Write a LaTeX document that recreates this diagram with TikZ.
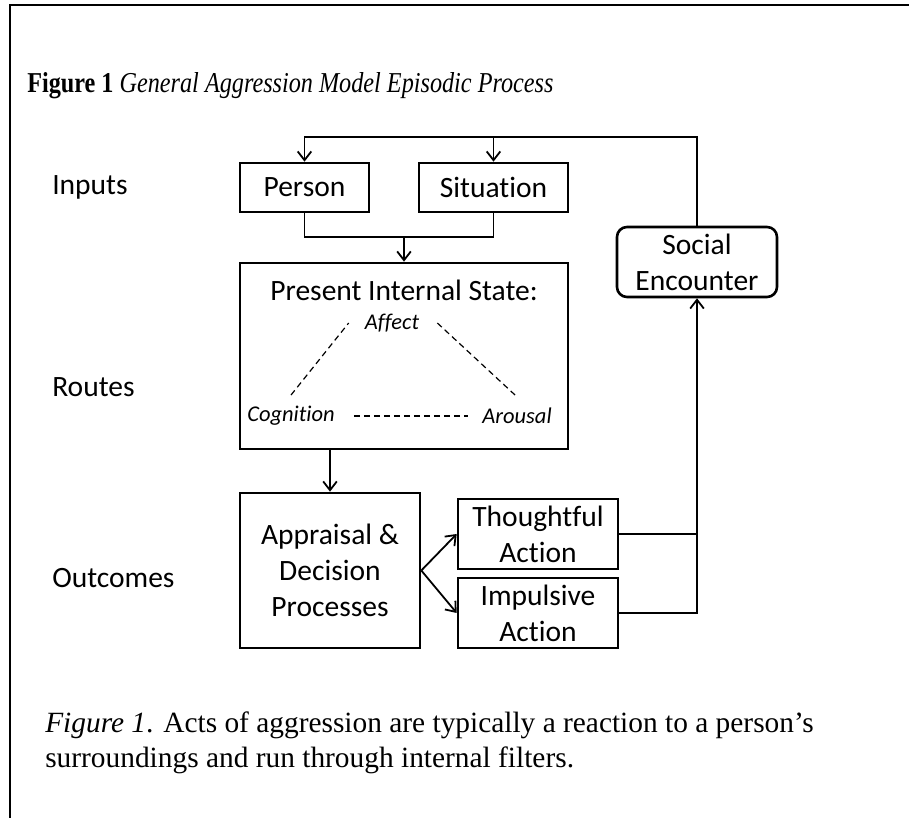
\documentclass[tikz,border=0pt]{standalone}
\usepackage{fontspec}
\setmainfont{Liberation Serif}
\newfontfamily\boxfont[Ligatures=NoCommon]{Carlito}
\usetikzlibrary{arrows.meta}

\begin{document}
\begin{tikzpicture}[
    box/.style={draw, line width=0.065000cm, inner sep=0pt, align=center,
      font=\boxfont\fontsize{21}{25.5}\selectfont},
    roundbox/.style={box, rounded corners=0.250000cm},
    plainlabel/.style={inner sep=0pt, font=\boxfont\fontsize{21}{25.5}\selectfont},
    statelabel/.style={inner sep=0.100000cm, font=\boxfont\itshape\fontsize{16}{19}\selectfont},
    link/.style={line width=0.045000cm},
    feed/.style={link, -{Straight Barb[length=0.220000cm,width=0.340000cm]}},
    linkdash/.style={line width=0.030000cm, dash pattern=on 0.150000cm off 0.100000cm},
  ]
\useasboundingbox (0.000000,0.000000) rectangle (22.725000,20.450000);

% Drawing frame
\draw [line width=0.050000cm] (22.725000,20.325000) -- (0.250000,20.325000) -- (0.250000,0.000000);%

% Marking title
\node [anchor=west, inner sep=0pt, font=\fontsize{20.5}{24}\selectfont] (title) at (0.675000,18.300000)
  {\scalebox{0.84}[1]{\textbf{Figure 1} \textit{General Aggression Model Episodic Process}}};%

% Marking row labels
\node [plainlabel, anchor=west] (inputs) at (1.300000,15.775000) {Inputs};%
\node [plainlabel, anchor=west] (routes) at (1.300000,10.775000) {Routes};%
\node [plainlabel, anchor=west] (outcomes) at (1.300000,6.000000) {Outcomes};%

% Drawing boxes Person and Situation
\node [box, minimum width=3.225cm, minimum height=1.225cm] (person) at (7.612500,15.762500) {Person};%
\node [box, minimum width=3.725cm, minimum height=1.225cm] (situation) at (12.337500,15.762500) {Situation};%

% Drawing box Present Internal State
\node [box, minimum width=8.200cm, minimum height=4.650cm] (state) at (10.100000,11.550000) {};%
\node [plainlabel] (statetitle) at (10.100000,13.200000) {Present Internal State:};%
\node [statelabel] (affect) at (9.800000,12.375000) {Affect};%
\node [statelabel] (cognition) at (7.275000,10.050000) {Cognition};%
\node [statelabel] (arousal) at (12.925000,10.050000) {Arousal};%

% Drawing box Social Encounter
\node [roundbox, minimum width=4.000cm, minimum height=1.750cm] (social) at (17.425000,13.900000) {Social\\Encounter};%

% Drawing box Appraisal
\node [box, minimum width=4.500cm, minimum height=3.875cm] (appraisal) at (8.250000,6.187500) {Appraisal \&\\Decision\\Processes};%

% Drawing boxes Thoughtful and Impulsive
\node [box, minimum width=4.000cm, minimum height=1.750cm] (thought) at (13.450000,7.100000) {Thoughtful\\Action};%
\node [box, minimum width=4.000cm, minimum height=1.750cm] (impulse) at (13.450000,5.125000) {Impulsive\\Action};%

% Marking corners of connectors
\coordinate (merge) at (10.100000,14.525000);
\coordinate (loop) at (17.425000,17.025000);

% Drawing segment Person Situation -> State
\draw [link] (person.south) |- (situation.south |- merge) -- (situation.south);%
\draw [feed] (merge) -- (state.north);%

% Drawing segment Social -> Person, Situation
\draw [feed] (social.north) |- (person.north |- loop) -- (person.north);%
\draw [feed] (situation.north |- loop) -- (situation.north);%

% Drawing segment State -> Appraisal
\draw [feed] (state.south -| appraisal.north) -- (appraisal.north);%

% Drawing segment Appraisal -> Thoughtful, Impulsive
\draw [feed] (appraisal.east) -- (thought.west);%
\draw [feed] (appraisal.east) -- (impulse.west);%

% Drawing segment Thoughtful, Impulsive -> Social
\draw [link] (thought.east) -- (thought.east -| social.south);%
\draw [feed] (impulse.east) -| (social.south);%

% Drawing dashed triangle
\draw [linkdash] ([yshift=0.175cm]cognition.north) -- ([xshift=-0.300cm]affect.west);%
\draw [linkdash] ([xshift=0.350cm]affect.east) -- ([yshift=0.175cm]arousal.north);%
\draw [linkdash, shorten <=0.375000cm, shorten >=0.250000cm] (cognition) -- (arousal);%

% Marking caption
\node [anchor=base west, inner sep=0pt, align=left, font=\fontsize{20.9}{24.9}\selectfont] (caption) at (1.125000,1.250000)
  {\textit{Figure 1}. Acts of aggression are typically a reaction to a person’s\\surroundings and run through internal filters.};%
\end{tikzpicture}
\end{document}
